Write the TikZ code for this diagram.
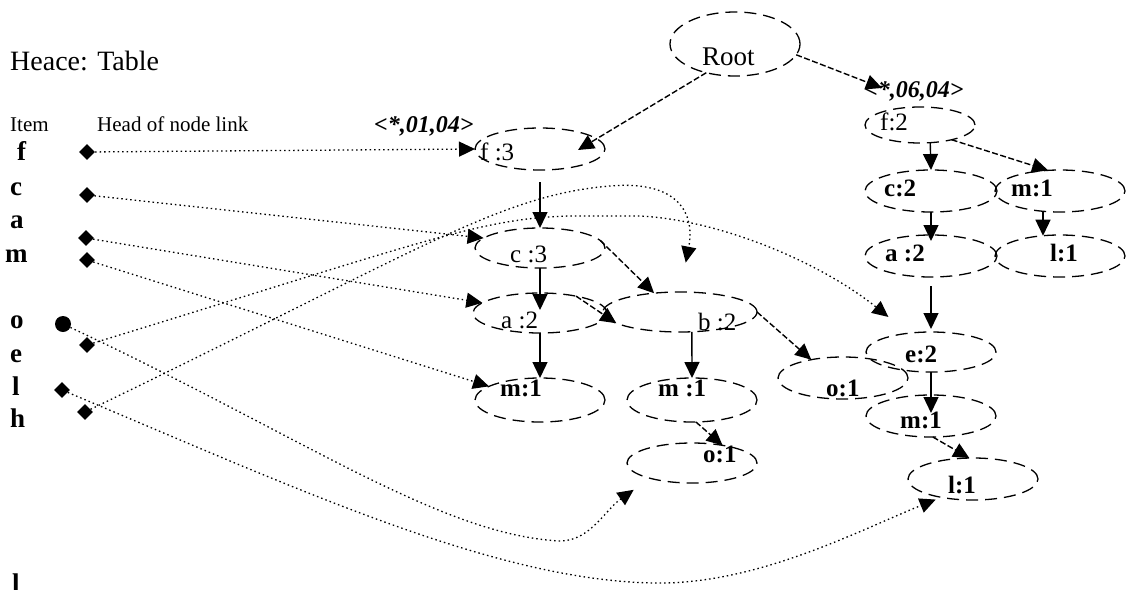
\documentclass[tikz,border=0pt]{standalone}
\usepackage{fontspec}
\setmainfont{Liberation Serif}
\usetikzlibrary{arrows.meta,shapes.geometric}

\begin{document}
\begin{tikzpicture}[x=1pt,y=-1pt,
  ell/.style={draw, ellipse, line width=1.3pt, dash pattern=on 12pt off 7pt,
              inner sep=0pt, outer sep=0pt},
  sz/.style 2 args={minimum width=#1, minimum height=#2},
  lbl/.style={anchor=base west, inner sep=0pt, font=\fontsize{25pt}{27pt}\selectfont},
  blbl/.style={anchor=base west, inner sep=0pt, font=\fontsize{25pt}{27pt}\selectfont\bfseries},
  itemlbl/.style={anchor=base west, inner sep=0pt, font=\fontsize{27pt}{29pt}\selectfont\bfseries},
  colhd/.style={anchor=base west, inner sep=0pt, font=\fontsize{21pt}{23pt}\selectfont},
  cnt/.style={anchor=base west, inner sep=0pt, font=\fontsize{24pt}{26pt}\selectfont\bfseries\itshape},
  hd/.style={diamond, fill=black, inner sep=0pt, minimum width=16pt, minimum height=16pt},
  hdround/.style={circle, fill=black, inner sep=0pt, minimum size=16pt},
  tip/.style={-{Triangle[length=16pt,width=15pt]}},
  tree/.style={tip, line width=1.4pt},
  dtree/.style={tree, dash pattern=on 6pt off 2.5pt},
  link/.style={tip, line width=1.3pt, dash pattern=on 1.5pt off 3pt}
]
\useasboundingbox (0,0) rectangle (1126,589);
\fill[white] (0,0) rectangle (1126,589);

% header table
\node[anchor=base west, inner sep=0pt, font=\fontsize{28pt}{30pt}\selectfont] (hdr) at (10,70) {Heace: Table};
\node[colhd] (colitem) at (10,131) {Item};
\node[colhd] (colhead) at (97,131) {Head of node link};

\node[itemlbl] (if) at (17,160) {f};
\node[itemlbl] (ic) at (10,195) {c};
\node[itemlbl] (ia) at (10,228) {a};
\node[itemlbl] (im) at (5,262) {m};
\node[itemlbl] (io) at (10,328) {o};
\node[itemlbl] (ie) at (10,362) {e};
\node[itemlbl] (il) at (12,395) {l};
\node[itemlbl] (ih) at (10,427) {h};
\begin{scope}
  \clip (0,0) rectangle (1126,589);
  \node[itemlbl] (ilast) at (12,592) {l};
\end{scope}

% node-link heads
\node[hd] (df) at (87,152) {};
\node[hd] (dc) at (87,195) {};
\node[hd] (da) at (86,238) {};
\node[hd] (dm) at (87,260) {};
\node[hdround] (do) at (63,324) {};
\node[hd] (de) at (87,345) {};
\node[hd] (dl) at (62,390) {};
\node[hd] (dh) at (85,412) {};

% tree nodes
\node[ell, sz={130pt}{64pt}] (root) at (735,44) {};
\node[ell, sz={130pt}{42pt}] (f3)  at (540,149) {};
\node[ell, sz={130pt}{40pt}] (c3)  at (540,248) {};
\node[ell, sz={134pt}{40pt}] (a2)  at (540,313) {};
\node[ell, sz={154pt}{40pt}] (b2)  at (680,312) {};
\node[ell, sz={130pt}{44pt}] (m1a) at (540,400) {};
\node[ell, sz={130pt}{44pt}] (m1b) at (692,400) {};
\node[ell, sz={130pt}{40pt}] (o1m) at (692,463) {};
\node[ell, sz={130pt}{42pt}] (o1r) at (843,378) {};
\node[ell, sz={130pt}{40pt}] (e2)  at (931,352) {};
\node[ell, sz={130pt}{42pt}] (m1r) at (931,416) {};
\node[ell, sz={130pt}{42pt}] (l1b) at (973,479) {};
\node[ell, sz={110pt}{36pt}] (f2)  at (920,125) {};
\node[ell, sz={132pt}{42pt}] (c2)  at (931,191) {};
\node[ell, sz={130pt}{42pt}] (m1t) at (1060,191) {};
\node[ell, sz={132pt}{42pt}] (a2r) at (931,256) {};
\node[ell, sz={130pt}{42pt}] (l1r) at (1060,256) {};

% node texts
\node[anchor=base west, inner sep=0pt, font=\fontsize{27pt}{29pt}\selectfont] (troot) at (702,65) {Root};
\node[lbl]  (tf3)  at (480,160) {f :3};
\node[lbl]  (tc3)  at (510,262) {c :3};
\node[lbl]  (ta2)  at (501,328) {a :2};
\node[lbl]  (tb2)  at (698,330) {b :2};
\node[blbl] (tm1a) at (500,396) {m:1};
\node[blbl] (tm1b) at (658,396) {m :1};
\node[blbl] (to1m) at (703,462) {o:1};
\node[blbl] (to1r) at (826,396) {o:1};
\node[blbl] (te2)  at (905,362) {e:2};
\node[blbl] (tm1r) at (900,428) {m:1};
\node[blbl] (tl1b) at (948,493) {l:1};
\node[lbl]  (tf2)  at (880,130) {f:2};
\node[blbl] (tc2)  at (884,196) {c:2};
\node[blbl] (tm1t) at (1011,196) {m:1};
\node[blbl] (ta2r) at (885,261) {a :2};
\node[blbl] (tl1r) at (1050,261) {l:1};

% conditional pattern base counters
\node[cnt] (cnt1) at (374,132) {<*,01,04>};
\node[cnt] (cnt2) at (864,97) {<*,06,04>};

\coordinate (f3in) at (578,150);
\coordinate (f2in) at (882,88);

% tree edges
\draw[dtree] (root.-135) -- (f3in);
\draw[dtree] (root.-10) -- (f2in);
\draw[tree, shorten <=12pt] (f3.south) -- (c3.north);
\draw[tree, shorten >=-17pt] (c3.south) -- (a2.north);
\draw[tree] (a2.south) -- (m1a.north);
\draw[dtree] (c3.7) -- (b2.144);
\draw[dtree] (a2.25) -- (b2.190);
\draw[tree] (b2.-59) -- (m1b.north);
\draw[dtree] (b2.east) -- (o1r.150);
\draw[dtree] (m1b.-80) -- (o1m.30);
\draw[tree] (f2.-60) -- (c2.north);
\draw[dtree] (f2.-25) -- (m1t.120);
\draw[tree, shorten >=-6pt] (c2.south) -- (a2r.north);
\draw[tree] (m1t.230) -- (l1r.130);
\draw[tree, shorten <=9pt, shorten >=3pt] (a2r.south) -- (e2.north);
\draw[tree, shorten >=-18pt] (e2.south) -- (m1r.north);
\draw[dtree] (m1r.-85) -- (l1b.100);

% node links from the header table
\draw[link] (df) -- (f3.west);
\draw[link] (dc) -- (c3.170);
\draw[link] (da) -- (a2.170);
\draw[link] (dm) -- (m1a.165);
\draw[link, shorten >=26pt] (de) .. controls (420,243) and (480,218) .. (570,216)
   -- (640,216) .. controls (720,220) and (820,262) .. (e2.140);
\draw[link, shorten >=30pt] (dh) .. controls (420,250) and (500,195) .. (610,186)
   .. controls (680,180) and (695,215) .. (b2.north);
\draw[link, shorten >=20pt] (do) .. controls (300,435) and (440,535) .. (560,541)
   .. controls (590,541) and (605,510) .. (o1m.200);
\draw[link, shorten >=6pt] (dl) .. controls (300,490) and (500,583) .. (660,583)
   .. controls (760,583) and (860,530) .. (l1b.210);
\end{tikzpicture}
\end{document}
